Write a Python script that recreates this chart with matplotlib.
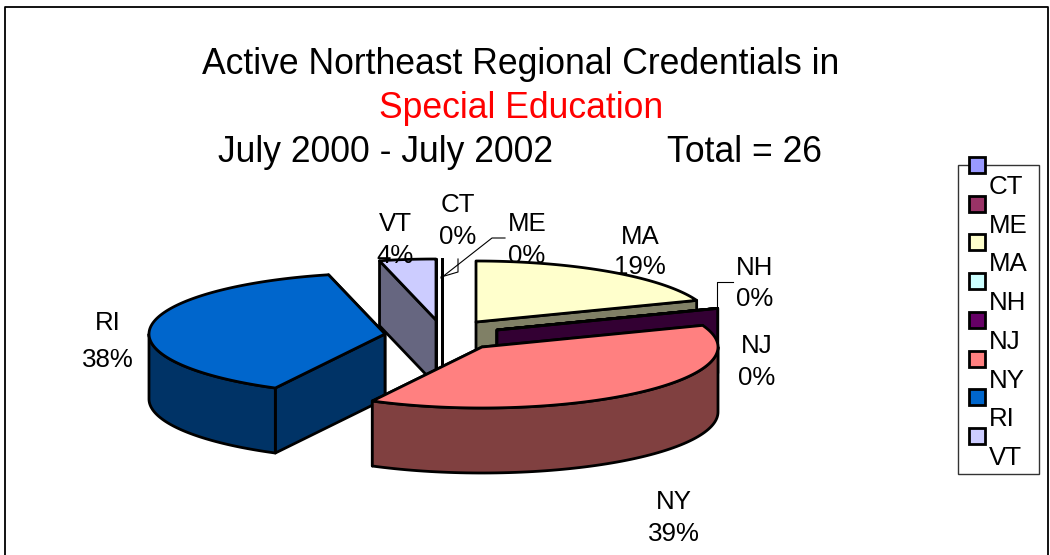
import numpy as np
import matplotlib
matplotlib.use("Agg")
import matplotlib.pyplot as plt
from matplotlib.patches import Polygon, Rectangle

plt.rcParams['font.family'] = ['Liberation Sans', 'DejaVu Sans']

# data, counts out of 26, clockwise from 12 o'clock
categories = ['CT', 'ME', 'MA', 'NH', 'NJ', 'NY', 'RI', 'VT']
counts = [0, 0, 5, 0, 0, 10, 10, 1]
pct_labels = ['0%', '0%', '19%', '0%', '0%', '39%', '38%', '4%']
colors = ['#9999FF', '#993366', '#FFFFCC', '#CCFFFF', '#660066', '#FF8080', '#0066CC', '#CCCCFF']

# exploded position of each slice (pixels)
apex_x = [442, 442, 476, 497, 497, 482, 385, 436]
apex_y = [320, 320, 322, 330, 330, 347, 334, 320]
label_x = [458, 527, 640, 755, 757, 674, 108, 395]
name_y = [205, 224, 237, 268, 346, 502, 323, 224]
pct_y = [237, 256, 267, 299, 378, 534, 360, 256]
draw_order = ['CT', 'ME', 'VT', 'MA', 'NH', 'NJ', 'RI', 'NY']

RX, RY, DEPTH = 236, 61, 65
LABEL_SIZE = 18.6
TITLE_SIZE = 25.6

fig = plt.figure(figsize=(10.5, 5.55), dpi=100)
ax = fig.add_axes([0, 0, 1, 1])
ax.set_xlim(0, 1050)
ax.set_ylim(555, 0)
ax.axis('off')


def shade(col):
    rgb = np.array(matplotlib.colors.to_rgb(col))
    return tuple(rgb * 0.5)


def rim(cx, cy, th):
    return cx + RX * np.sin(th), cy - RY * np.cos(th)


def draw_slice(i, t1, t2):
    cx, cy = apex_x[i], apex_y[i]
    dark = shade(colors[i])
    style = dict(edgecolor='black', linewidth=2, joinstyle='round')

    # the two cut faces, back one first
    cuts = sorted([t1, t2], key=lambda t: rim(cx, cy, t)[1])
    for t in cuts:
        x, y = rim(cx, cy, t)
        ax.add_patch(Polygon([(cx, cy), (x, y), (x, y + DEPTH), (cx, cy + DEPTH)],
                             facecolor=dark, **style))

    # outer wall, only the front half of the ellipse shows
    a = max(t1, np.pi / 2)
    b = min(t2, 3 * np.pi / 2)
    if b > a:
        th = np.linspace(a, b, 80)
        x, y = rim(cx, cy, th)
        pts = list(zip(x, y)) + list(zip(x[::-1], y[::-1] + DEPTH))
        ax.add_patch(Polygon(pts, facecolor=dark, **style))

    # top
    th = np.linspace(t1, t2, 120)
    x, y = rim(cx, cy, th)
    ax.add_patch(Polygon([(cx, cy)] + list(zip(x, y)), facecolor=colors[i], **style))


# frame
ax.plot([5, 5, 1048, 1048], [556, 6.5, 6.5, 556], color='black', lw=1.3)

total = sum(counts)
edges = np.concatenate([[0], np.cumsum(counts)]) / total * 2 * np.pi
for name in draw_order:
    i = categories.index(name)
    draw_slice(i, edges[i], edges[i + 1])

# leader lines
ax.plot([441, 458, 458], [277, 272, 259], color='black', lw=0.8)
ax.plot([441, 492, 505], [278, 238, 238], color='black', lw=0.8)
ax.plot([717, 717, 733], [308, 282, 282], color='black', lw=0.8)

# slice labels
for i, name in enumerate(categories):
    ax.text(label_x[i], name_y[i], name, ha='center', va='center', fontsize=LABEL_SIZE)
    ax.text(label_x[i], pct_y[i], pct_labels[i], ha='center', va='center', fontsize=LABEL_SIZE)

# title
ax.text(521, 64, 'Active Northeast Regional Credentials in', ha='center', va='center', fontsize=TITLE_SIZE)
ax.text(521, 108, 'Special Education', ha='center', va='center', fontsize=TITLE_SIZE, color='red')
ax.text(386, 152, 'July 2000 - July 2002', ha='center', va='center', fontsize=TITLE_SIZE)
ax.text(744, 152, 'Total = 26', ha='center', va='center', fontsize=TITLE_SIZE)

# legend
ax.add_patch(Rectangle((958, 165), 81, 309, facecolor='white', edgecolor='#333333', lw=1, zorder=5))
for i, name in enumerate(categories):
    my = 165 + i * 38.7
    ax.add_patch(Rectangle((969, my - 8), 16, 16, facecolor=colors[i], edgecolor='black', lw=2, zorder=6))
    ax.text(989, my + 22, name, ha='left', va='center', fontsize=LABEL_SIZE, zorder=6)

fig.savefig('out.png', dpi=100)
